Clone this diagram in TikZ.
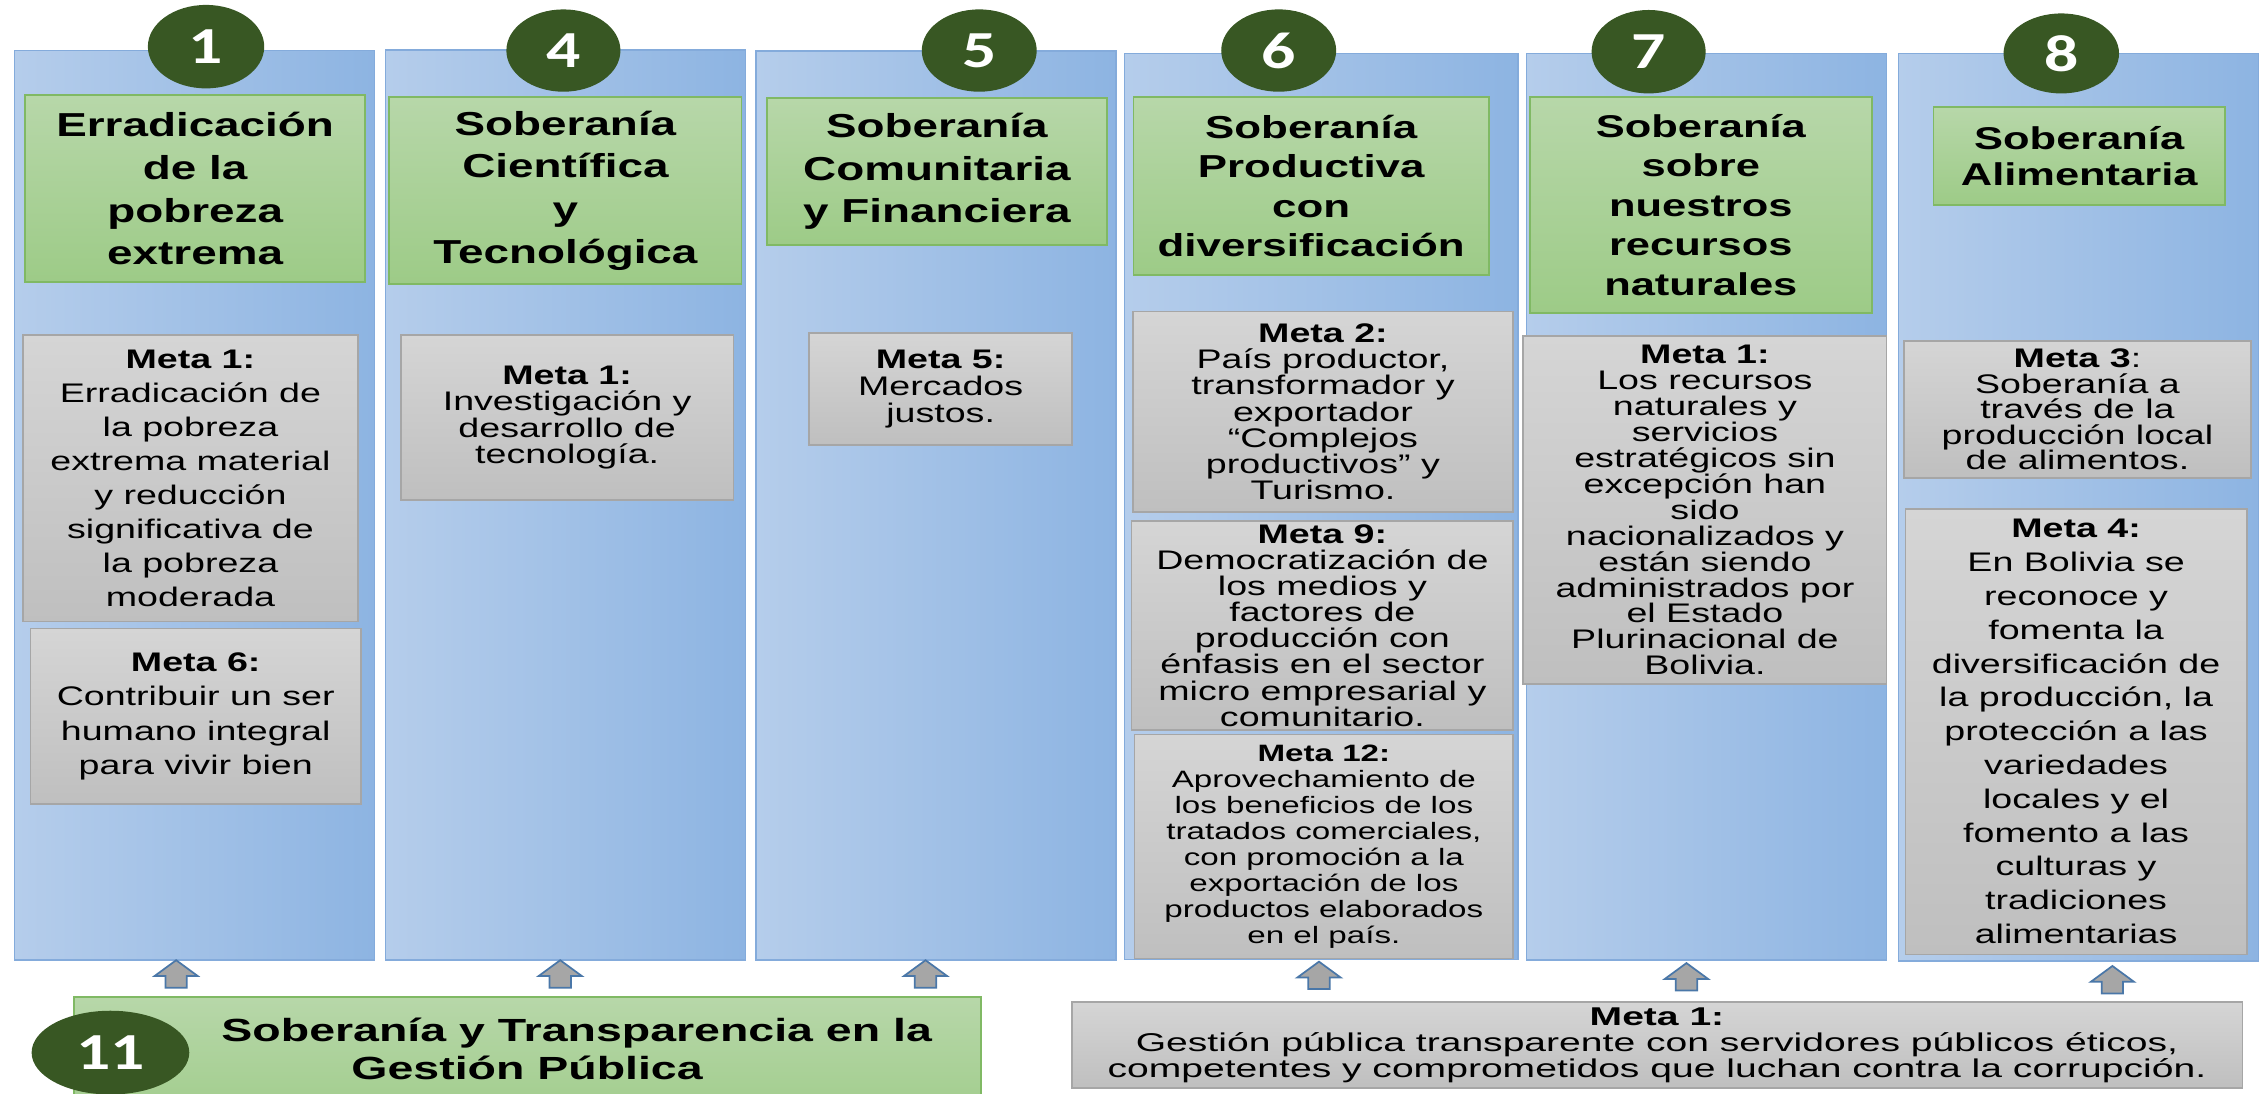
\documentclass[tikz,border=0pt]{standalone}
\usepackage{fontspec}
\setmainfont{Liberation Sans}
\newfontfamily\ttlfont{Liberation Sans}[FakeStretch=1.38]
\newfontfamily\metafont{Liberation Sans}[FakeStretch=1.4]
\newfontfamily\botfont{Liberation Sans}[FakeStretch=1.52]
\newfontfamily\gbfont{Liberation Sans}[FakeStretch=1.45]
\newfontfamily\numfont{Carlito}[FakeStretch=1.3]
\usetikzlibrary{shapes.geometric}
\definecolor{colL}{HTML}{B5CDEB}
\definecolor{colR}{HTML}{8DB4E2}
\definecolor{colB}{HTML}{84ABDB}
\definecolor{grT}{HTML}{B7D7A9}
\definecolor{grB}{HTML}{9DCB87}
\definecolor{grD}{HTML}{80B964}
\definecolor{gyT}{HTML}{D5D5D5}
\definecolor{gyB}{HTML}{BFBFBF}
\definecolor{gyD}{HTML}{A6A6A6}
\definecolor{dkgreen}{HTML}{385723}
\definecolor{arrF}{HTML}{A6A6A6}
\definecolor{arrD}{HTML}{4A77A8}
\tikzset{
  colbox/.style={rectangle, draw=colB, line width=0.5pt, left color=colL, right color=colR, inner sep=0pt},
  titlebox/.style={rectangle, draw=grD, line width=0.6pt, top color=grT, bottom color=grB, inner sep=0pt, align=center, text=black},
  metabox/.style={rectangle, draw=gyD, line width=0.6pt, top color=gyT, bottom color=gyB, inner sep=0pt, align=center, text=black},
  numcirc/.style={ellipse, fill=dkgreen, inner sep=0pt, text=white, font=\numfont\bfseries\fontsize{18}{18}\selectfont},
  tt/.style 2 args={font=\ttlfont\bfseries\fontsize{#1}{#2}\selectfont},
  mt/.style 2 args={font=\metafont\fontsize{#1}{#2}\selectfont},
  uparr/.pic={\draw[fill=arrF, draw=arrD, line width=0.6pt, line join=miter] (0,0) -- (15,11) -- (7.4,11) -- (7.4,19) -- (-7.4,19) -- (-7.4,11) -- (-15,11) -- cycle;}
}
\begin{document}
\begin{tikzpicture}[x=0.5pt, y=-0.5pt]
\useasboundingbox (0,0) rectangle (1568,757);
\clip (0,0) rectangle (1568,757);
% columns
\node[colbox, minimum width=124.75pt, minimum height=315.1pt] (c1) at (134.75,349.9) {};
\node[colbox, minimum width=124.7pt, minimum height=315.25pt] (c4) at (391.6,349.75) {};
\node[colbox, minimum width=124.65pt, minimum height=314.75pt] (c5) at (648.25,350.05) {};
\node[colbox, minimum width=136.25pt, minimum height=313.8pt] (c6) at (915.05,350.7) {};
\node[colbox, minimum width=124.65pt, minimum height=314.05pt] (c7) at (1181.95,350.95) {};
\node[colbox, minimum width=124.65pt, minimum height=314.35pt] (c8) at (1439.35,351.25) {};
% number circles
\node[numcirc, minimum width=40.3pt, minimum height=28.9pt] (e1) at (142.7,32.3) {1};
\node[numcirc, minimum width=39.5pt, minimum height=28.5pt] (e4) at (390.2,35) {4};
\node[numcirc, minimum width=39.8pt, minimum height=28.5pt] (e5) at (678.2,35) {5};
\node[numcirc, minimum width=39.8pt, minimum height=28.5pt] (e6) at (885.6,35) {6};
\node[numcirc, minimum width=39.5pt, minimum height=28.9pt] (e7) at (1141.8,35.8) {7};
\node[numcirc, minimum width=40pt, minimum height=27.7pt] (e8) at (1427.6,37) {8};
% titles
\node[titlebox, tt={11.5}{14.8}, minimum width=117.65pt, minimum height=64.75pt] (g1) at (135.15,130.75) {Erradicación\\de la\\pobreza\\extrema};
\node[titlebox, tt={11.5}{14.8}, minimum width=122pt, minimum height=64.95pt] (g4) at (391.6,131.95) {Soberanía\\Científica\\y\\Tecnológica};
\node[titlebox, tt={11.5}{14.7}, minimum width=117.85pt, minimum height=50.8pt] (g5) at (648.85,118.9) {Soberanía\\Comunitaria\\y Financiera};
\node[titlebox, tt={11.0}{13.65}, minimum width=123.1pt, minimum height=61.55pt] (g6) at (908.1,128.95) {Soberanía\\Productiva\\con\\diversificación};
\node[titlebox, tt={10.9}{13.7}, minimum width=118.55pt, minimum height=75pt] (g7) at (1177.95,142) {Soberanía\\sobre\\nuestros\\recursos\\naturales};
\node[titlebox, tt={10.9}{12.7}, minimum width=101pt, minimum height=33.85pt] (g8) at (1440,108.15) {Soberanía\\Alimentaria};
% metas
\node[metabox, mt={9.3}{11.75}, minimum width=115.8pt, minimum height=99.25pt] (m1a) at (131.9,331.25) {\textbf{Meta 1:}\\Erradicación de\\la pobreza\\extrema material\\y reducción\\significativa de\\la pobreza\\moderada};
\node[metabox, mt={9.3}{11.85}, minimum width=114.45pt, minimum height=60.9pt] (m1b) at (135.55,496.1) {\textbf{Meta 6:}\\Contribuir un ser\\humano integral\\para vivir bien};
\node[metabox, mt={9.3}{9.1}, minimum width=115.2pt, minimum height=57.15pt] (m4) at (392.8,289.15) {\textbf{Meta 1:}\\Investigación y\\desarrollo de\\tecnología.};
\node[metabox, mt={9.3}{9.4}, minimum width=90.95pt, minimum height=38.6pt] (m5) at (651.45,269.4) {\textbf{Meta 5:}\\Mercados\\justos.};
\node[metabox, mt={9.3}{9.1}, minimum width=131.75pt, minimum height=69.5pt] (m6a) at (916.25,285.2) {\textbf{Meta 2:}\\País productor,\\transformador y\\exportador\\“Complejos\\productivos” y\\Turismo.};
\node[metabox, mt={9.3}{9.05}, minimum width=132.15pt, minimum height=72.4pt] (m6b) at (915.85,433.2) {\textbf{Meta 9:}\\Democratización de\\los medios y\\factores de\\producción con\\énfasis en el sector\\micro empresarial y\\comunitario.};
\node[metabox, mt={8.2}{9}, minimum width=131.1pt, minimum height=77.6pt] (m6c) at (916.9,586.3) {\textbf{Meta 12:}\\Aprovechamiento de\\los beneficios de los\\tratados comerciales,\\con promoción a la\\exportación de los\\productos elaborados\\en el país.};
\node[metabox, mt={9.3}{9}, minimum width=125.8pt, minimum height=120.55pt] (m7) at (1180.8,353.15) {\textbf{Meta 1:}\\Los recursos\\naturales y\\servicios\\estratégicos sin\\excepción han\\sido\\nacionalizados y\\están siendo\\administrados por\\el Estado\\Plurinacional de\\Bolivia.};
\node[metabox, mt={9.3}{8.85}, minimum width=120.2pt, minimum height=47.6pt] (m8a) at (1438.8,283.6) {\textbf{Meta 3}:\\Soberanía a\\través de la\\producción local\\de alimentos.};
\node[metabox, mt={9.3}{11.7}, minimum width=118.15pt, minimum height=154.35pt] (m8b) at (1437.85,506.65) {\textbf{Meta 4:}\\En Bolivia se\\reconoce y\\fomenta la\\diversificación de\\la producción, la\\protección a las\\variedades\\locales y el\\fomento a las\\culturas y\\tradiciones\\alimentarias};
% arrows
\pic at (122,665) {uparr};
\pic at (388,665) {uparr};
\pic at (641,665) {uparr};
\pic at (913.5,666) {uparr};
\pic at (1168,667) {uparr};
\pic at (1463,669) {uparr};
% bottom boxes
\node[titlebox, minimum width=314.1pt, minimum height=49.65pt] (gb) at (365.1,740.35) {};
\node[anchor=west, align=left, inner sep=0pt, font=\gbfont\bfseries\fontsize{11.1}{13.3}\selectfont] (gbt) at (153,726.6) {Soberanía y Transparencia en la\\\hspace*{45pt}Gestión Pública};
\node[numcirc, minimum width=54.6pt, minimum height=29pt] (e11) at (76.5,729) {11};
\node[metabox, font=\botfont\fontsize{8.9}{9}\selectfont, minimum width=405.4pt, minimum height=30pt] (mb) at (1147.6,723.7) {\textbf{Meta 1:}\\Gestión pública transparente con servidores públicos éticos,\\competentes y comprometidos que luchan contra la corrupción.};
\end{tikzpicture}
\end{document}
